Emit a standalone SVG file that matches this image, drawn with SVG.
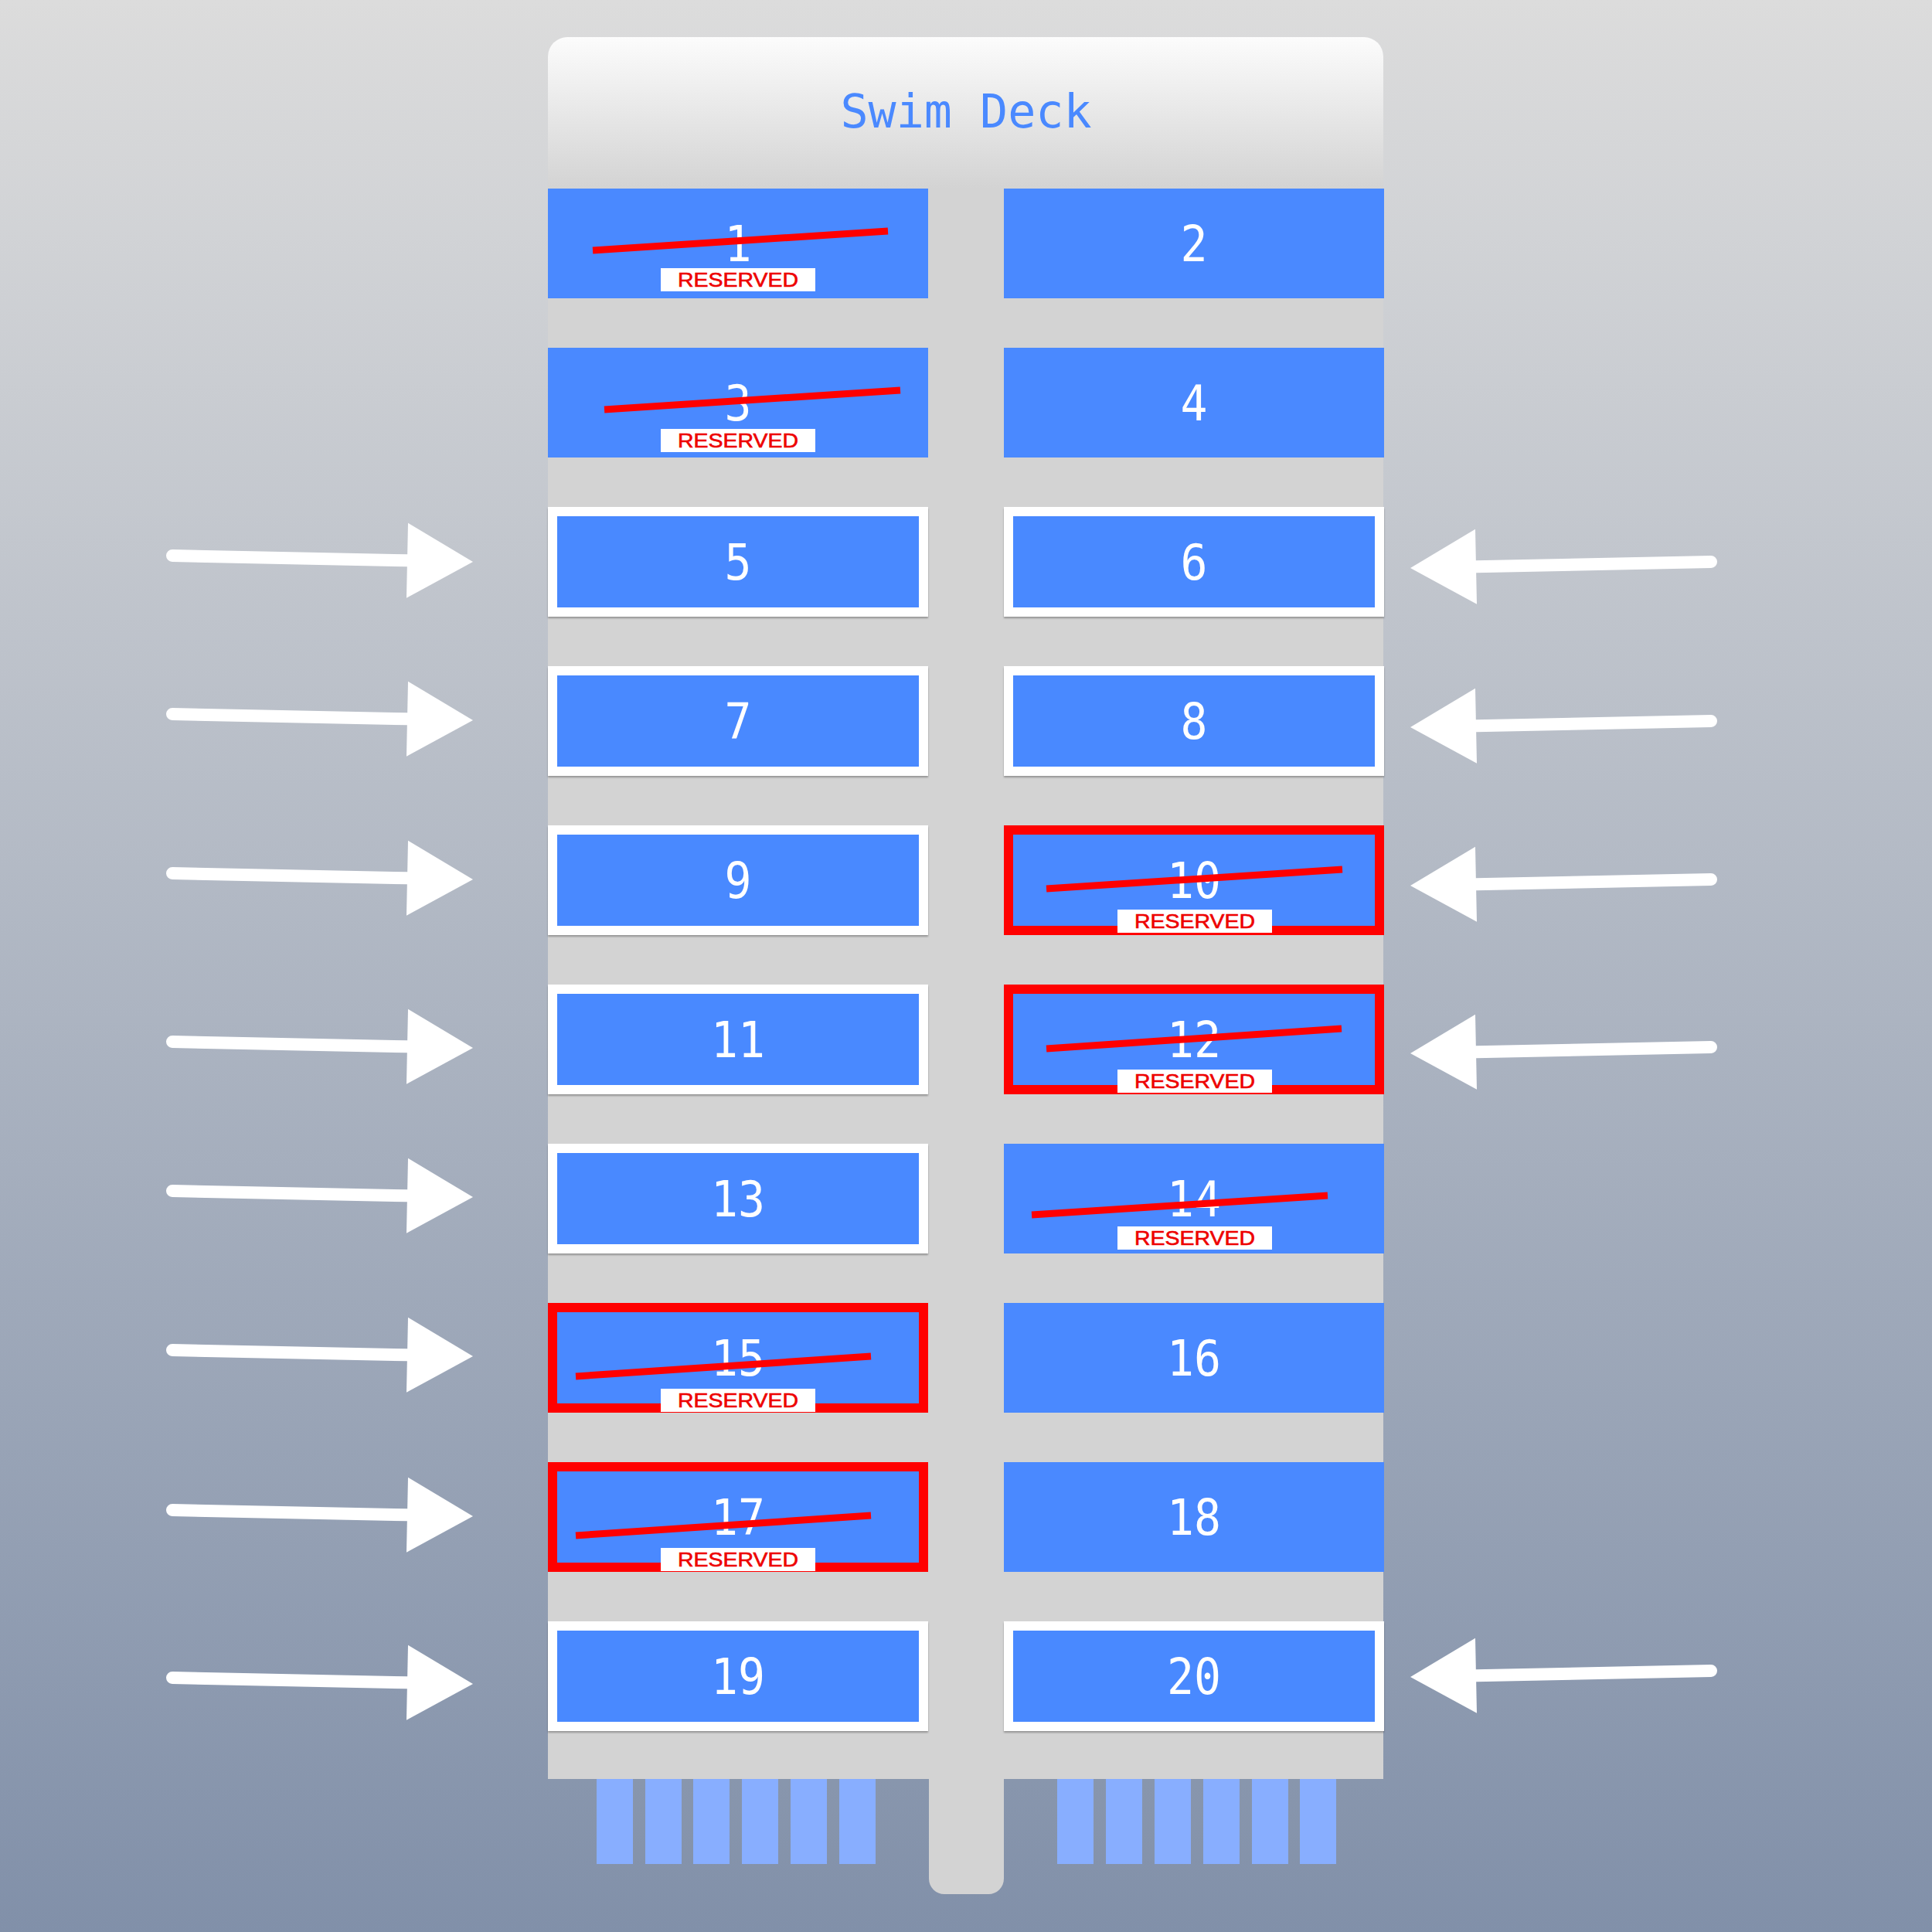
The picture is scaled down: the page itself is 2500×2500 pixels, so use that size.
<svg xmlns="http://www.w3.org/2000/svg" width="2500" height="2500" viewBox="0 0 2500 2500">
<defs>
<linearGradient id="bg" x1="0" y1="0" x2="0" y2="1">
<stop offset="0" stop-color="#dcdcdc"/>
<stop offset="1" stop-color="#8190a9"/>
</linearGradient>
<linearGradient id="hdr" x1="0" y1="0" x2="0" y2="1">
<stop offset="0" stop-color="#fcfcfc"/>
<stop offset="1" stop-color="#d3d3d3"/>
</linearGradient>
<filter id="sh" x="-5%" y="-10%" width="110%" height="125%">
<feDropShadow dx="0" dy="2" stdDeviation="1" flood-color="#000" flood-opacity="0.3"/>
</filter>
<marker id="head" markerUnits="userSpaceOnUse" markerWidth="90" markerHeight="100" refX="0" refY="48.5" orient="auto" overflow="visible">
<path d="M0,0 L85,48.5 L0,97 Z" fill="#ffffff"/>
</marker>
</defs>
<style>
.slot{fill:#4a89ff}
.free{fill:#4a89ff;stroke:#ffffff;stroke-width:12}
.held{fill:#4a89ff;stroke:#ff0000;stroke-width:12}
.num{font-family:"DejaVu Sans Mono",monospace;font-size:64px;fill:#ffffff;text-anchor:middle}
.strike{stroke:#ff0000;stroke-width:9;stroke-linecap:butt}
.tag{fill:#ffffff}
.tagt{font-family:"Liberation Sans",Arial,sans-serif;font-size:25px;font-weight:normal;fill:#ee0000;text-anchor:middle;stroke:#ee0000;stroke-width:0.6}
.bar{fill:#88aeff}
.arr{stroke:#ffffff;stroke-width:16;stroke-linecap:round;fill:none;marker-end:url(#head)}
</style>
<rect x="0" y="0" width="2500" height="2500" fill="url(#bg)"/>
<g id="deck">
<path d="M734 48 H1765 A25 25 0 0 1 1790 73 V2302 H1299 V2431 A20 20 0 0 1 1279 2451 H1222 A20 20 0 0 1 1202 2431 V2302 H709 V73 A25 25 0 0 1 734 48 Z" fill="#d3d3d3"/>
<path d="M734 48 H1765 A25 25 0 0 1 1790 73 V244 H709 V73 A25 25 0 0 1 734 48 Z" fill="url(#hdr)"/>
<text x="1250" y="165" font-family="DejaVu Sans Mono, monospace" font-size="60" fill="#4a89ff" text-anchor="middle">Swim Deck</text>
</g>
<g id="ladders">
<rect class="bar" x="772" y="2302" width="47" height="110"/>
<rect class="bar" x="835" y="2302" width="47" height="110"/>
<rect class="bar" x="897" y="2302" width="47" height="110"/>
<rect class="bar" x="960" y="2302" width="47" height="110"/>
<rect class="bar" x="1023" y="2302" width="47" height="110"/>
<rect class="bar" x="1086" y="2302" width="47" height="110"/>
<rect class="bar" x="1368" y="2302" width="47" height="110"/>
<rect class="bar" x="1431" y="2302" width="47" height="110"/>
<rect class="bar" x="1494" y="2302" width="47" height="110"/>
<rect class="bar" x="1557" y="2302" width="47" height="110"/>
<rect class="bar" x="1620" y="2302" width="47" height="110"/>
<rect class="bar" x="1682" y="2302" width="47" height="110"/>
</g>
<g id="slot1"><rect class="slot" x="709" y="244" width="492" height="142"/><text class="num" x="955" y="338" textLength="35" lengthAdjust="spacingAndGlyphs">1</text><line class="strike" x1="767" y1="324" x2="1149" y2="299"/><rect class="tag" x="855" y="347" width="200" height="30"/><text class="tagt" x="955" y="371" textLength="156" lengthAdjust="spacingAndGlyphs">RESERVED</text></g>
<g id="slot2"><rect class="slot" x="1299" y="244" width="492" height="142"/><text class="num" x="1545" y="338" textLength="35" lengthAdjust="spacingAndGlyphs">2</text></g>
<g id="slot3"><rect class="slot" x="709" y="450" width="492" height="142"/><text class="num" x="955" y="544" textLength="35" lengthAdjust="spacingAndGlyphs">3</text><line class="strike" x1="782" y1="530" x2="1165" y2="505"/><rect class="tag" x="855" y="555" width="200" height="30"/><text class="tagt" x="955" y="579" textLength="156" lengthAdjust="spacingAndGlyphs">RESERVED</text></g>
<g id="slot4"><rect class="slot" x="1299" y="450" width="492" height="142"/><text class="num" x="1545" y="544" textLength="35" lengthAdjust="spacingAndGlyphs">4</text></g>
<g id="slot5" filter="url(#sh)"><rect class="free" x="715" y="662" width="480" height="130"/><text class="num" x="955" y="750" textLength="35" lengthAdjust="spacingAndGlyphs">5</text></g>
<g id="slot6" filter="url(#sh)"><rect class="free" x="1305" y="662" width="480" height="130"/><text class="num" x="1545" y="750" textLength="35" lengthAdjust="spacingAndGlyphs">6</text></g>
<g id="slot7" filter="url(#sh)"><rect class="free" x="715" y="868" width="480" height="130"/><text class="num" x="955" y="956" textLength="35" lengthAdjust="spacingAndGlyphs">7</text></g>
<g id="slot8" filter="url(#sh)"><rect class="free" x="1305" y="868" width="480" height="130"/><text class="num" x="1545" y="956" textLength="35" lengthAdjust="spacingAndGlyphs">8</text></g>
<g id="slot9" filter="url(#sh)"><rect class="free" x="715" y="1074" width="480" height="130"/><text class="num" x="955" y="1162" textLength="35" lengthAdjust="spacingAndGlyphs">9</text></g>
<g id="slot10"><rect class="held" x="1305" y="1074" width="480" height="130"/><text class="num" x="1545" y="1162" textLength="70" lengthAdjust="spacingAndGlyphs">10</text><line class="strike" x1="1354" y1="1150" x2="1737" y2="1125"/><rect class="tag" x="1446" y="1177" width="200" height="30"/><text class="tagt" x="1546" y="1201" textLength="156" lengthAdjust="spacingAndGlyphs">RESERVED</text></g>
<g id="slot11" filter="url(#sh)"><rect class="free" x="715" y="1280" width="480" height="130"/><text class="num" x="955" y="1368" textLength="70" lengthAdjust="spacingAndGlyphs">11</text></g>
<g id="slot12"><rect class="held" x="1305" y="1280" width="480" height="130"/><text class="num" x="1545" y="1368" textLength="70" lengthAdjust="spacingAndGlyphs">12</text><line class="strike" x1="1354" y1="1357" x2="1736" y2="1331"/><rect class="tag" x="1446" y="1384" width="200" height="30"/><text class="tagt" x="1546" y="1408" textLength="156" lengthAdjust="spacingAndGlyphs">RESERVED</text></g>
<g id="slot13" filter="url(#sh)"><rect class="free" x="715" y="1486" width="480" height="130"/><text class="num" x="955" y="1574" textLength="70" lengthAdjust="spacingAndGlyphs">13</text></g>
<g id="slot14"><rect class="slot" x="1299" y="1480" width="492" height="142"/><text class="num" x="1545" y="1574" textLength="70" lengthAdjust="spacingAndGlyphs">14</text><line class="strike" x1="1335" y1="1572" x2="1718" y2="1547"/><rect class="tag" x="1446" y="1587" width="200" height="30"/><text class="tagt" x="1546" y="1611" textLength="156" lengthAdjust="spacingAndGlyphs">RESERVED</text></g>
<g id="slot15"><rect class="held" x="715" y="1692" width="480" height="130"/><text class="num" x="955" y="1780" textLength="70" lengthAdjust="spacingAndGlyphs">15</text><line class="strike" x1="745" y1="1781" x2="1127" y2="1755"/><rect class="tag" x="855" y="1797" width="200" height="30"/><text class="tagt" x="955" y="1821" textLength="156" lengthAdjust="spacingAndGlyphs">RESERVED</text></g>
<g id="slot16"><rect class="slot" x="1299" y="1686" width="492" height="142"/><text class="num" x="1545" y="1780" textLength="70" lengthAdjust="spacingAndGlyphs">16</text></g>
<g id="slot17"><rect class="held" x="715" y="1898" width="480" height="130"/><text class="num" x="955" y="1986" textLength="70" lengthAdjust="spacingAndGlyphs">17</text><line class="strike" x1="745" y1="1987" x2="1127" y2="1961"/><rect class="tag" x="855" y="2003" width="200" height="30"/><text class="tagt" x="955" y="2027" textLength="156" lengthAdjust="spacingAndGlyphs">RESERVED</text></g>
<g id="slot18"><rect class="slot" x="1299" y="1892" width="492" height="142"/><text class="num" x="1545" y="1986" textLength="70" lengthAdjust="spacingAndGlyphs">18</text></g>
<g id="slot19" filter="url(#sh)"><rect class="free" x="715" y="2104" width="480" height="130"/><text class="num" x="955" y="2192" textLength="70" lengthAdjust="spacingAndGlyphs">19</text></g>
<g id="slot20" filter="url(#sh)"><rect class="free" x="1305" y="2104" width="480" height="130"/><text class="num" x="1545" y="2192" textLength="70" lengthAdjust="spacingAndGlyphs">20</text></g>
<g id="connectors">
<line class="arr" x1="223" y1="719" x2="527" y2="725.3"/>
<line class="arr" x1="223" y1="924" x2="527" y2="930.3"/>
<line class="arr" x1="223" y1="1130" x2="527" y2="1136.3"/>
<line class="arr" x1="223" y1="1348" x2="527" y2="1354.3"/>
<line class="arr" x1="223" y1="1541" x2="527" y2="1547.3"/>
<line class="arr" x1="223" y1="1747" x2="527" y2="1753.3"/>
<line class="arr" x1="223" y1="1954" x2="527" y2="1960.3"/>
<line class="arr" x1="223" y1="2171" x2="527" y2="2177.3"/>
<line class="arr" x1="2214" y1="727" x2="1910" y2="733.3"/>
<line class="arr" x1="2214" y1="933" x2="1910" y2="939.3"/>
<line class="arr" x1="2214" y1="1138" x2="1910" y2="1144.3"/>
<line class="arr" x1="2214" y1="1355" x2="1910" y2="1361.3"/>
<line class="arr" x1="2214" y1="2162" x2="1910" y2="2168.3"/>
</g>
</svg>
